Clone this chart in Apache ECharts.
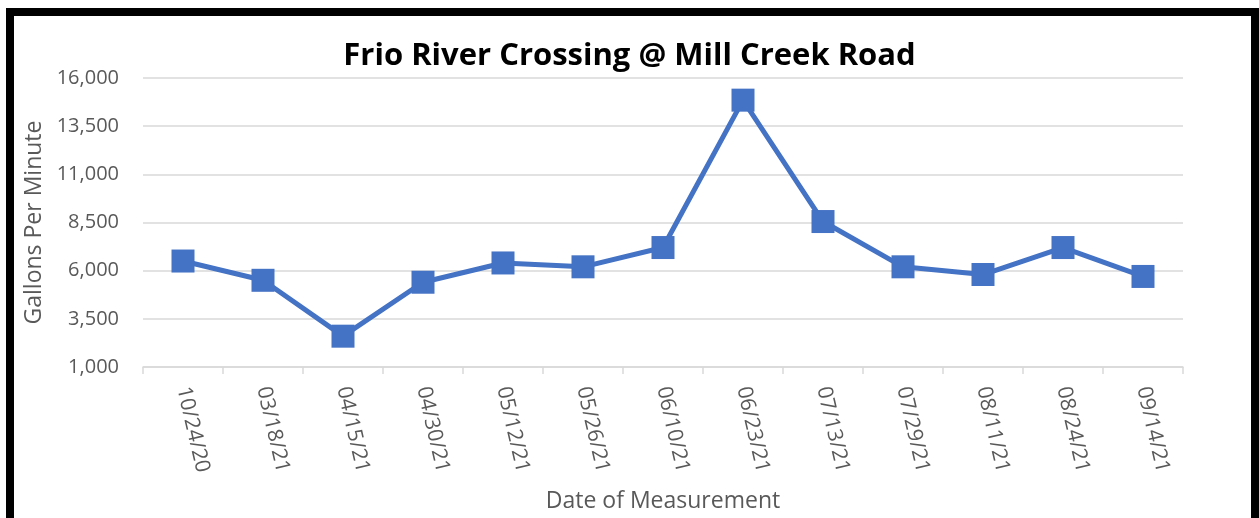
<!DOCTYPE html>
<html>
<head>
    <meta charset="utf-8">
    <title>Frio River Crossing</title>
    <style>
        body { margin: 0; background: #fff; }
        #chart { position: absolute; left: 0; top: 0; width: 1259px; height: 518px; }
        #frame {
            position: absolute; left: 6px; top: 8px; width: 1253px; height: 600px;
            box-sizing: border-box; border: 8px solid #000; pointer-events: none;
        }
    </style>
</head>
<body>
    <div id="chart"></div>
    <div id="frame"></div>
    <script src="https://cdn.jsdelivr.net/npm/echarts@6/dist/echarts.min.js"></script>
    <script>
        // measurement dates and flow (gallons per minute)
        var dates = ['10/24/20', '03/18/21', '04/15/21', '04/30/21', '05/12/21', '05/26/21', '06/10/21',
            '06/23/21', '07/13/21', '07/29/21', '08/11/21', '08/24/21', '09/14/21'];
        var flow = [6500, 5500, 2600, 5400, 6400, 6200, 7200, 14850, 8550, 6200, 5800, 7200, 5700];

        var textColor = '#595959';
        var font = 'Open Sans';

        var myChart = echarts.init(document.getElementById('chart'));
        var option = {
            animation: false,
            title: {
                text: 'Frio River Crossing @ Mill Creek Road',
                left: 'center',
                top: 36,
                textStyle: { fontFamily: font, fontWeight: 'bold', fontSize: 31, color: '#000' }
            },
            grid: { left: 143, right: 76, top: 78, bottom: 151, outerBoundsMode: 'none' },
            xAxis: {
                type: 'category',
                data: dates,
                boundaryGap: true,
                name: 'Date of Measurement',
                nameLocation: 'middle',
                nameGap: 123,
                nameTextStyle: { fontFamily: font, fontSize: 23, color: textColor },
                axisLine: { lineStyle: { color: '#D9D9D9', width: 1.5 } },
                axisTick: { show: true, length: 7, lineStyle: { color: '#D9D9D9', width: 1.5 } },
                axisLabel: {
                    rotate: -77,
                    margin: 20,
                    fontFamily: font,
                    fontSize: 21,
                    color: textColor
                }
            },
            yAxis: {
                type: 'value',
                min: 1000,
                max: 16000,
                interval: 2500,
                name: 'Gallons Per Minute',
                nameLocation: 'middle',
                nameGap: 97,
                nameTextStyle: { fontFamily: font, fontSize: 23, color: textColor },
                axisLine: { show: false },
                axisTick: { show: false },
                splitLine: { lineStyle: { color: '#D9D9D9', width: 1.5 } },
                axisLabel: {
                    margin: 24,
                    fontFamily: font,
                    fontSize: 20,
                    color: textColor,
                    formatter: function (v) { return v.toLocaleString('en-US'); }
                }
            },
            series: [{
                type: 'line',
                data: flow,
                symbol: 'rect',
                symbolSize: 23,
                lineStyle: { color: '#4472C4', width: 5 },
                itemStyle: { color: '#4472C4' }
            }]
        };
        myChart.setOption(option);
    </script>
</body>
</html>
